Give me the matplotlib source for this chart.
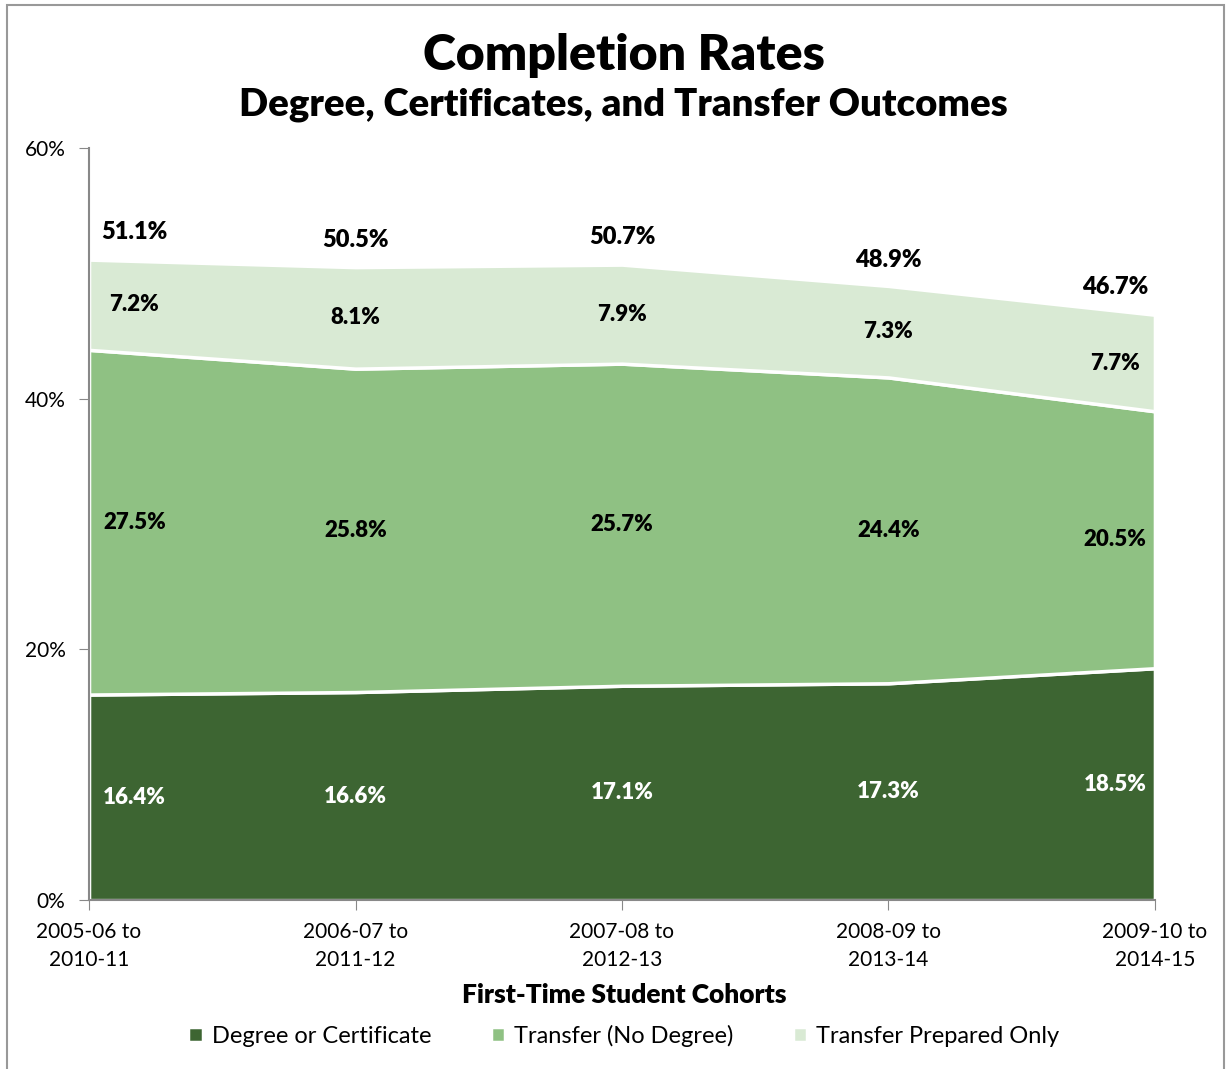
import numpy as np
import matplotlib
matplotlib.use("Agg")
import matplotlib.pyplot as plt
from matplotlib.patches import Rectangle

plt.rcParams['font.family'] = ['Lato', 'DejaVu Sans']

cohorts = ["2005-06 to\n2010-11", "2006-07 to\n2011-12", "2007-08 to\n2012-13",
           "2008-09 to\n2013-14", "2009-10 to\n2014-15"]
degree = [16.4, 16.6, 17.1, 17.3, 18.5]
transfer = [27.5, 25.8, 25.7, 24.4, 20.5]
prepared = [7.2, 8.1, 7.9, 7.3, 7.7]
totals = [51.1, 50.5, 50.7, 48.9, 46.7]

series_names = ["Degree or Certificate", "Transfer (No Degree)", "Transfer Prepared Only"]
colors = ["#3d6532", "#8fc183", "#d9ead4"]

fig = plt.figure(figsize=(12.28, 10.69), dpi=100)
ax = fig.add_axes([0.0725, 0.158, 0.868, 0.7035])

x = np.arange(len(cohorts))
ax.stackplot(x, degree, transfer, prepared, colors=colors, labels=series_names,
             edgecolor="white", linewidth=2.5)

ax.set_xlim(0, len(cohorts) - 1)
ax.set_ylim(0, 60)
ax.set_yticks([0, 20, 40, 60])
ax.set_yticklabels(["0%", "20%", "40%", "60%"], fontsize=15)
ax.set_xticks(x)
ax.set_xticklabels(cohorts, fontsize=15, linespacing=1.5)
ax.tick_params(axis="y", direction="out", length=7, color="#888888", pad=10)
ax.tick_params(axis="x", direction="out", length=7, color="#888888", pad=9)
for s in ["top", "right"]:
    ax.spines[s].set_visible(False)
for s in ["left", "bottom"]:
    ax.spines[s].set_color("#888888")
    ax.spines[s].set_linewidth(1.5)

# data labels
xoff = [0.17, 0, 0, 0, -0.15]
for i in range(len(cohorts)):
    xi = x[i] + xoff[i]
    d, t, p = degree[i], transfer[i], prepared[i]
    ax.text(xi, d / 2, f"{d:.1f}%", ha="center", va="center", color="white",
            fontsize=16, fontweight="heavy")
    ax.text(xi, d + t / 2, f"{t:.1f}%", ha="center", va="center", color="black",
            fontsize=16, fontweight="heavy")
    ax.text(xi, d + t + p / 2, f"{p:.1f}%", ha="center", va="center", color="black",
            fontsize=16, fontweight="heavy")
    ax.text(xi, totals[i] + 2.2, f"{totals[i]:.1f}%", ha="center", va="center",
            color="black", fontsize=17, fontweight="heavy")

fig.text(0.508, 0.948, "Completion Rates", ha="center", va="center",
         fontsize=36, fontweight="heavy")
fig.text(0.508, 0.902, "Degree, Certificates, and Transfer Outcomes", ha="center",
         va="center", fontsize=27.5, fontweight="heavy")
fig.text(0.508, 0.069, "First-Time Student Cohorts", ha="center", va="center",
         fontsize=19, fontweight="heavy")

handles, labels = ax.get_legend_handles_labels()
fig.legend(handles, labels, loc="center", bbox_to_anchor=(0.508, 0.031), ncol=3,
           frameon=False, fontsize=17, handlelength=0.6, handleheight=0.6,
           handletextpad=0.4, columnspacing=2.5)

fig.patches.append(Rectangle((0.006, -0.01), 0.991, 1.005, transform=fig.transFigure,
                             fill=False, edgecolor="#999999", linewidth=1.5))

fig.savefig("out.png", dpi=100)
